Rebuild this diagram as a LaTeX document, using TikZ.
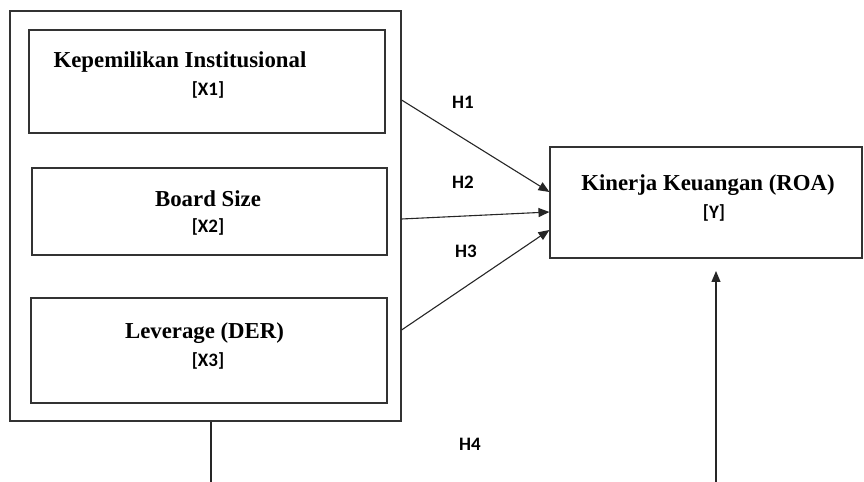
\documentclass[tikz,border=0pt]{standalone}
\usepackage{fontspec}
\setmainfont{Liberation Serif}
\newfontfamily\codefont{Carlito}
\usetikzlibrary{arrows.meta}

\tikzset{
  box/.style={draw=black!80, line width=1.1bp, inner sep=0pt},
  varname/.style={anchor=base, inner sep=0pt, font=\fontsize{22.8bp}{26bp}\selectfont\bfseries},
  varcode/.style={anchor=base, inner sep=0pt, font=\codefont\fontsize{19bp}{22bp}\selectfont\bfseries},
  link/.style={draw=black!85, line width=1.1bp},
  arrow/.style={link, -{Triangle[length=11bp,width=9bp]}}
}

\begin{document}
\begin{tikzpicture}[x=1bp,y=-1bp]
\useasboundingbox (0,0) rectangle (864,482);

% independent variables
\node[box, minimum width=391bp, minimum height=410bp] (outer) at (205.5,216) {};
\node[box, minimum width=356bp, minimum height=103bp] (x1) at (207,81.5) {};
\node[box, minimum width=355bp, minimum height=87bp] (x2) at (209.5,211.5) {};
\node[box, minimum width=356bp, minimum height=105bp] (x3) at (209,350.5) {};
\node[varname] (x1name) at (180,68) {Kepemilikan Institusional};
\node[varcode] (x1code) at (208,96) {[X1]};
\node[varname] (x2name) at (208,206.7) {Board Size};
\node[varcode] (x2code) at (208,233) {[X2]};
\node[varname] (x3name) at (204.5,339) {Leverage (DER)};
\node[varcode] (x3code) at (208,366.7) {[X3]};

% dependent variable
\node[box, minimum width=312bp, minimum height=111bp] (y) at (706,202.5) {};
\node[varname] (yname) at (708,191) {Kinerja Keuangan (ROA)};
\node[varcode] (ycode) at (714,219) {[Y]};

% hypotheses
\draw[arrow] (outer.east |- 0,100) -- (y.west |- 0,192);
\draw[arrow] (outer.east |- 0,219) -- (y.west |- 0,212);
\draw[arrow] (outer.east |- 0,330) -- (y.west |- 0,230);
\node[varcode] (h1) at (463,108.3) {H1};
\node[varcode] (h2) at (463,188.3) {H2};
\node[varcode] (h3) at (466,257.7) {H3};
\node[varcode] (h4) at (470,450) {H4};

% simultaneous path
\coordinate (h4start) at (211,482);
\coordinate (h4end) at (716,482);
\coordinate (h4tip) at (716,271);
\draw[link] (outer.south -| h4start) -- (h4start);
\draw[arrow] (h4end) -- (h4tip);
\end{tikzpicture}
\end{document}
